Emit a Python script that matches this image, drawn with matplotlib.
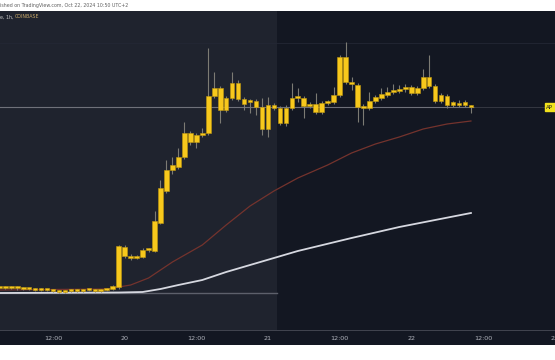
import matplotlib.pyplot as plt
import numpy as np

# ===== DATA (1h candles, hour index from 19 Oct 00:00) =====
hours = list(range(3, 83))

opens = [0.47, 0.48, 0.47, 0.48, 0.47, 0.46, 0.46, 0.45, 0.46, 0.45,
         0.44, 0.43, 0.44, 0.45, 0.44, 0.45, 0.45, 0.44, 0.45, 0.46,
         0.48, 0.88, 0.79, 0.77, 0.78, 0.85, 0.84, 1.12, 1.44, 1.65,
         1.68, 1.78, 2.02, 1.93, 2.00, 2.02, 2.39, 2.47, 2.25, 2.37,
         2.52, 2.36, 2.33, 2.34, 2.28, 2.06, 2.30, 2.27, 2.12, 2.27,
         2.37, 2.37, 2.29, 2.31, 2.23, 2.32, 2.33, 2.40, 2.78, 2.53,
         2.50, 2.28, 2.27, 2.34, 2.37, 2.40, 2.43, 2.44, 2.46, 2.48,
         2.42, 2.47, 2.58, 2.49, 2.34, 2.39, 2.30, 2.31, 2.30, 2.29]
closes = [0.48, 0.47, 0.48, 0.47, 0.46, 0.46, 0.45, 0.46, 0.45, 0.44,
          0.43, 0.44, 0.45, 0.44, 0.45, 0.45, 0.44, 0.45, 0.46, 0.49,
          0.89, 0.79, 0.77, 0.78, 0.85, 0.86, 1.14, 1.47, 1.65, 1.70,
          1.78, 2.02, 1.93, 2.00, 2.02, 2.39, 2.47, 2.25, 2.37, 2.52,
          2.36, 2.31, 2.34, 2.28, 2.06, 2.30, 2.27, 2.12, 2.27, 2.37,
          2.38, 2.29, 2.31, 2.23, 2.32, 2.33, 2.40, 2.78, 2.53, 2.51,
          2.28, 2.27, 2.34, 2.38, 2.41, 2.43, 2.45, 2.46, 2.48, 2.42,
          2.47, 2.58, 2.49, 2.34, 2.40, 2.30, 2.33, 2.30, 2.33, 2.28]
highs = [0.49, 0.49, 0.49, 0.49, 0.48, 0.47, 0.47, 0.47, 0.46, 0.46,
         0.45, 0.45, 0.46, 0.46, 0.46, 0.46, 0.46, 0.46, 0.47, 0.50,
         0.90, 0.90, 0.81, 0.80, 0.87, 0.87, 1.24, 1.55, 1.75, 1.78,
         1.87, 2.13, 2.04, 2.02, 2.07, 2.87, 2.63, 2.49, 2.39, 2.63,
         2.55, 2.38, 2.36, 2.36, 2.37, 2.38, 2.32, 2.29, 2.30, 2.52,
         2.47, 2.39, 2.33, 2.42, 2.34, 2.35, 2.48, 2.80, 2.93, 2.58,
         2.52, 2.31, 2.43, 2.40, 2.47, 2.48, 2.51, 2.50, 2.51, 2.50,
         2.49, 2.66, 2.80, 2.51, 2.42, 2.41, 2.34, 2.35, 2.35, 2.30]
lows = [0.46, 0.46, 0.46, 0.45, 0.45, 0.45, 0.44, 0.44, 0.44, 0.43,
        0.42, 0.42, 0.43, 0.43, 0.43, 0.44, 0.43, 0.43, 0.44, 0.45,
        0.46, 0.77, 0.75, 0.76, 0.77, 0.83, 0.83, 1.11, 1.42, 1.61,
        1.66, 1.76, 1.90, 1.87, 1.98, 2.00, 2.37, 2.12, 2.23, 2.35,
        2.34, 2.25, 2.22, 2.20, 2.00, 1.98, 2.25, 2.10, 2.09, 2.25,
        2.33, 2.17, 2.27, 2.21, 2.21, 2.30, 2.31, 2.38, 2.51, 2.45,
        2.13, 2.10, 2.25, 2.32, 2.35, 2.38, 2.41, 2.42, 2.43, 2.40,
        2.40, 2.45, 2.47, 2.32, 2.32, 2.27, 2.28, 2.28, 2.28, 2.22]

# moving averages
ma_fast_h = [3, 21, 25, 28, 32, 37, 41, 45, 49, 53, 58, 62, 66, 70, 74, 78, 82]
ma_fast = [0.45, 0.46, 0.50, 0.57, 0.73, 0.90, 1.10, 1.29, 1.44, 1.57,
           1.70, 1.82, 1.91, 1.98, 2.06, 2.11, 2.14]
ma_slow_h = [3, 23, 27, 30, 33, 37, 41, 45, 53, 62, 70, 82]
ma_slow = [0.42, 0.425, 0.43, 0.46, 0.50, 0.55, 0.63, 0.70, 0.84, 0.97, 1.08, 1.22]

last_price = 2.28
base_line = 0.42

tick_hours = [12, 24, 36, 48, 60, 72, 84, 96]
tick_labels = ["12:00", "20", "12:00", "21", "12:00", "22", "12:00", "23"]

# ===== FIGURE =====
W, H = 555, 360
fig = plt.figure(figsize=(W / 100, H / 100), dpi=100, facecolor="white")
ax = fig.add_axes([0, 30 / H, 1, 319 / H])
ax_t = fig.add_axes([0, 15 / H, 1, 15 / H])

x0, x1 = 3.116, 96.08
ax.set_xlim(x0, x1)
ax.set_ylim(0.05, 3.24)
ax.set_facecolor("#131722")
ax.axvspan(x0, 49.5, color="#1f232e", zorder=0, lw=0)

# grid / reference lines
ax.axhline(2.92, color="#232734", lw=0.6, zorder=1)
ax.plot([x0, 49.5], [base_line, base_line], color="#5d606b", lw=1.0, zorder=1)
ax.plot([x0, hours[-1] + 0.5], [last_price, last_price], color="#6f717a", lw=0.8, zorder=1)
ax.plot([hours[-1] + 0.5, x1], [last_price, last_price], color="#3a3d47", lw=0.6, zorder=1)

# moving averages
ax.plot(ma_fast_h, ma_fast, color="#74332d", lw=0.9, zorder=2)
ax.plot(ma_slow_h, ma_slow, color="#d6d8e0", lw=1.3, zorder=2)

# candles
o = np.array(opens)
c = np.array(closes)
bottom = np.minimum(o, c)
height = np.maximum(np.abs(c - o), 0.02)
ax.vlines(hours, lows, highs, color="#7c7b74", lw=0.8, zorder=3)
ax.bar(hours, height, bottom=bottom, width=0.78, color="#f7c81c",
       edgecolor="#c29a10", linewidth=0.4, zorder=4)

for s in ax.spines.values():
    s.set_visible(False)
ax.set_xticks([])
ax.set_yticks([])

# price label on right edge
ax.text(x1 - 1.45, last_price, "AP", fontsize=4, color="#1a1a1a", va="center",
        ha="left", zorder=6, clip_on=False,
        bbox=dict(boxstyle="square,pad=0.25", fc="#f2e21c", ec="#f2e21c"))

# time axis strip
ax_t.set_xlim(x0, x1)
ax_t.set_ylim(0, 1)
ax_t.set_facecolor("#131722")
for s in ax_t.spines.values():
    s.set_visible(False)
ax_t.axhline(1, color="#4a4d57", lw=1.2)
ax_t.set_xticks([])
ax_t.set_yticks([])
for h, lab in zip(tick_hours, tick_labels):
    ax_t.text(h, 0.45, lab, fontsize=4.6, color="#b2b5be", ha="center", va="center")

# header texts
fig.text(0.0, 1 - 6 / H, "ished on TradingView.com, Oct 22, 2024 10:50 UTC+2",
         fontsize=3.4, color="#606060", va="center", ha="left")
fig.text(0.0, 1 - 17 / H, "e, 1h,", fontsize=3.4, color="#c8c8c8",
         va="center", ha="left")
fig.text(15 / W, 1 - 17 / H, "COINBASE", fontsize=3.4, color="#c9a96a",
         va="center", ha="left")

fig.savefig("out.png", dpi=100, facecolor="white")
